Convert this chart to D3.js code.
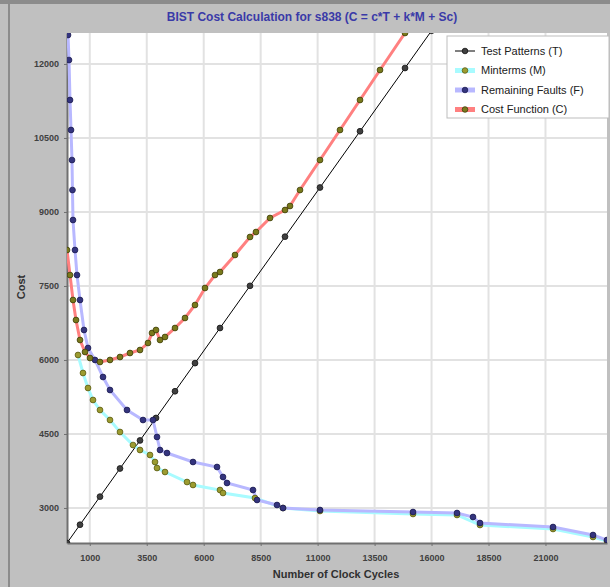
<!DOCTYPE html>
<html>
<head>
<meta charset="utf-8">
<script src="https://cdn.jsdelivr.net/npm/d3@7"></script>
<style>
  body { margin: 0; background: #c0c0c0; }
  svg { display: block; font-family: "Liberation Sans", Arial, sans-serif; }
</style>
</head>
<body>
<div id="container"></div>
<script>
/* CONSTANTS AND GLOBALS */
const width = 610;
const height = 587;
const margin = { top: 33, right: 3, bottom: 44, left: 67 };

/* DATA */
const xTicks = [1000, 3500, 6000, 8500, 11000, 13500, 16000, 18500, 21000];
const yTicks = [3000, 4500, 6000, 7500, 9000, 10500, 12000];

// test patterns (T)
const tX = [0, 571, 1448, 2326, 3204, 3906, 4740, 5618, 6715, 8032, 9568, 11104, 12860, 14835, 16000];
const tY = [2290, 2661, 3230, 3800, 4369, 4825, 5366, 5936, 6648, 7503, 8500, 9496, 10636, 11918, 12674];

// minterms (M)
const mX = [483, 702, 922, 1141, 1448, 1887, 2326, 2897, 3204, 3643, 3862, 3950, 4301, 5267, 5530, 6715, 6847, 8251, 9480, 11104, 15186, 17117, 18126, 21331, 23086, 23700];
const mY = [6101, 5736, 5432, 5189, 4986, 4783, 4540, 4276, 4175, 4074, 3932, 3810, 3729, 3526, 3466, 3364, 3304, 3202, 2999, 2939, 2878, 2858, 2655, 2574, 2412, 2331];

// remaining faults (F)
const fX = [44, 88, 132, 176, 219, 240, 263, 351, 439, 571, 746, 922, 1229, 1580, 1887, 2633, 3336, 3775, 3950, 4082, 4389, 5530, 6584, 6847, 7022, 8164, 8339, 9217, 9480, 11104, 15186, 17117, 17819, 18126, 21331, 23086, 23700];
const fY = [12587, 12080, 11270, 10662, 10053, 9445, 8837, 8229, 7722, 7216, 6608, 6243, 6000, 5655, 5391, 4986, 4783, 4783, 4439, 4175, 4114, 3932, 3831, 3628, 3506, 3364, 3162, 3060, 2999, 2959, 2918, 2898, 2817, 2695, 2614, 2452, 2351];

// cost function (C)
const cX = [0, 132, 263, 395, 571, 790, 1009, 1448, 1887, 2326, 2765, 3204, 3555, 3731, 3906, 4082, 4301, 4740, 5179, 5618, 6057, 6496, 6715, 7374, 8032, 8295, 8910, 9568, 9787, 10226, 11104, 11982, 12860, 13738, 14835, 15274];
const cY = [8229, 7722, 7216, 6810, 6405, 6162, 6040, 5959, 6000, 6060, 6141, 6202, 6344, 6547, 6608, 6405, 6466, 6648, 6851, 7114, 7459, 7722, 7783, 8128, 8493, 8594, 8878, 9040, 9121, 9445, 10053, 10662, 11270, 11878, 12628, 12932];

const series = [
  { name: "Test Patterns (T)",    xs: tX, ys: tY, line: "#000000", lineW: 1, dot: "#404040", dotStroke: "#111" },
  { name: "Minterms (M)",         xs: mX, ys: mY, line: "#a8fbff", lineW: 3, dot: "#9c9c30", dotStroke: "#5a5a10" },
  { name: "Remaining Faults (F)", xs: fX, ys: fY, line: "#b8b8ff", lineW: 3, dot: "#34347e", dotStroke: "#1c1c50" },
  { name: "Cost Function (C)",    xs: cX, ys: cY, line: "#ff8080", lineW: 3, dot: "#7a7a1c", dotStroke: "#3e3e08" }
];

/* SCALES */
const xScale = d3.scaleLinear()
  .domain([0, 23700])
  .range([margin.left, width - margin.right]);

const yScale = d3.scaleLinear()
  .domain([2290, 12628])
  .range([height - margin.bottom, margin.top]);

/* HTML ELEMENTS */
const svg = d3.select("#container")
  .append("svg")
  .attr("width", width)
  .attr("height", height);

// window frame
svg.append("rect").attr("x", 0).attr("y", 0).attr("width", width).attr("height", height).attr("fill", "#c0c0c0");
svg.append("rect").attr("x", 0).attr("y", 0).attr("width", width).attr("height", 4).attr("fill", "#8c8c8c");
svg.append("rect").attr("x", 8).attr("y", 0).attr("width", 2).attr("height", height).attr("fill", "#8c8c8c");

// title
svg.append("text")
  .attr("x", 312).attr("y", 21)
  .attr("text-anchor", "middle")
  .attr("font-size", 12).attr("font-weight", "bold")
  .attr("fill", "#3a3aa8")
  .text("BIST Cost Calculation for s838 (C = c*T + k*M + Sc)");

// plot background
svg.append("rect")
  .attr("x", margin.left).attr("y", margin.top)
  .attr("width", width - margin.left - margin.right)
  .attr("height", height - margin.top - margin.bottom)
  .attr("fill", "#ffffff");

// grid
svg.append("g").selectAll("line")
  .data(xTicks)
  .join("line")
  .attr("x1", d => xScale(d)).attr("x2", d => xScale(d))
  .attr("y1", margin.top).attr("y2", height - margin.bottom)
  .attr("stroke", "#e2e2e2").attr("stroke-width", 2);
svg.append("g").selectAll("line")
  .data(yTicks)
  .join("line")
  .attr("y1", d => yScale(d)).attr("y2", d => yScale(d))
  .attr("x1", margin.left).attr("x2", width - margin.right)
  .attr("stroke", "#e2e2e2").attr("stroke-width", 2);

// axes
const xAxis = d3.axisBottom(xScale).tickValues(xTicks).tickFormat(d3.format("d")).tickSize(3).tickSizeOuter(0);
const yAxis = d3.axisLeft(yScale).tickValues(yTicks).tickFormat(d3.format("d")).tickSize(3).tickSizeOuter(0);

const gx = svg.append("g")
  .attr("transform", `translate(0, ${height - margin.bottom})`)
  .call(xAxis);
const gy = svg.append("g")
  .attr("transform", `translate(${margin.left}, 0)`)
  .call(yAxis);
[gx, gy].forEach(g => {
  g.select(".domain").attr("stroke", "#707070").attr("stroke-width", 2);
  g.selectAll(".tick line").attr("stroke", "#707070");
  g.selectAll(".tick text").attr("fill", "#404040").attr("font-size", 9).attr("font-weight", "bold")
    .attr("font-family", "Liberation Sans, Arial, sans-serif");
});
gx.selectAll(".tick text").attr("dy", "1.3em");
gy.selectAll(".tick text").attr("x", -8);

// axis labels
svg.append("text")
  .attr("x", 336).attr("y", 578)
  .attr("text-anchor", "middle")
  .attr("font-size", 11).attr("font-weight", "bold").attr("fill", "#303030")
  .text("Number of Clock Cycles");
svg.append("text")
  .attr("transform", "translate(25, 287) rotate(-90)")
  .attr("text-anchor", "middle")
  .attr("font-size", 11).attr("font-weight", "bold").attr("fill", "#303030")
  .text("Cost");

// clip
svg.append("clipPath").attr("id", "plot-clip")
  .append("rect")
  .attr("x", margin.left).attr("y", margin.top)
  .attr("width", width - margin.left - margin.right)
  .attr("height", height - margin.top - margin.bottom);

const plot = svg.append("g").attr("clip-path", "url(#plot-clip)");

const line = d3.line()
  .x(d => xScale(d[0]))
  .y(d => yScale(d[1]));

// lines first, then markers on top
series.forEach(s => {
  const pts = s.xs.map((x, i) => [x, s.ys[i]]);
  plot.append("path")
    .datum(pts)
    .attr("fill", "none")
    .attr("stroke", s.line)
    .attr("stroke-width", s.lineW)
    .attr("d", line);
});
series.forEach(s => {
  const pts = s.xs.map((x, i) => [x, s.ys[i]]);
  plot.append("g").selectAll("circle")
    .data(pts)
    .join("circle")
    .attr("cx", d => xScale(d[0]))
    .attr("cy", d => yScale(d[1]))
    .attr("r", 2.9)
    .attr("fill", s.dot)
    .attr("stroke", s.dotStroke)
    .attr("stroke-width", 0.8);
});

// legend
const legend = svg.append("g").attr("transform", "translate(447, 36)");
legend.append("rect")
  .attr("width", 162).attr("height", 82)
  .attr("fill", "#ffffff").attr("stroke", "#bdbdbd");
const rows = legend.selectAll("g.row")
  .data(series)
  .join("g")
  .attr("class", "row")
  .attr("transform", (d, i) => `translate(0, ${15 + i * 19.5})`);
rows.append("line")
  .attr("x1", 8).attr("x2", 28)
  .attr("stroke", d => d.line)
  .attr("stroke-width", d => d.lineW === 1 ? 1 : 5);
rows.append("circle")
  .attr("cx", 18).attr("r", 2.8)
  .attr("fill", d => d.dot)
  .attr("stroke", d => d.dotStroke)
  .attr("stroke-width", 0.8);
rows.append("text")
  .attr("x", 34).attr("dy", "0.35em")
  .attr("font-size", 11).attr("fill", "#202020")
  .text(d => d.name);
</script>
</body>
</html>
